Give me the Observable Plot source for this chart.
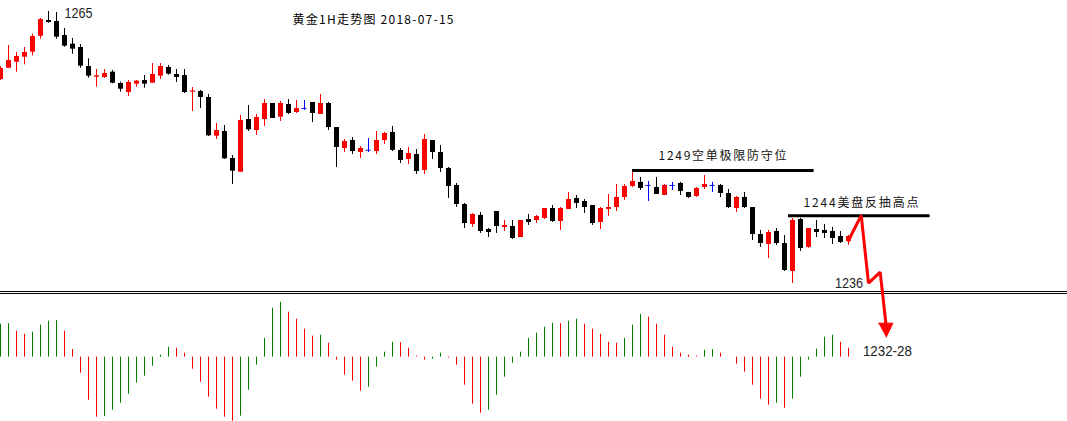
<!DOCTYPE html>
<html><head><meta charset="utf-8">
<script src="https://cdn.jsdelivr.net/npm/d3@7"></script>
<script src="https://cdn.jsdelivr.net/npm/@observablehq/plot@0.6"></script>
<style>
html,body{margin:0;padding:0;background:#fff;}
#chart{position:relative;width:1067px;height:421px;overflow:hidden;background:#fff;}
#top{position:relative;z-index:2;height:291px;}
#sep{height:1px;border-top:1px solid #000;border-bottom:1px solid #000;}
#bottom{position:relative;z-index:1;height:127px;}
svg{display:block;}
</style></head><body>
<div id="chart"><div id="top"></div><div id="sep"></div><div id="bottom"></div></div>
<script>
// ---- data (gold 1H candles) ----
const openP = [
1257.75,1258.95,1259.59,1260.12,1260.66,1262.36,1264.04,1263.93,1262.44,1261.51,
1261.16,1259.13,1257.99,1257.96,1258.53,1257.32,1256.36,1257.25,1257.64,1257.35,
1258.10,1259.03,1258.28,1258.17,1256.39,1256.47,1255.83,1251.70,1252.20,1249.32,
1247.86,1253.48,1252.31,1253.48,1255.19,1253.73,1255.08,1254.23,1254.66,1255.30,
1254.02,1255.19,1252.63,1250.39,1251.24,1249.96,1250.21,1250.07,1251.24,1252.10,
1250.18,1249.22,1249.75,1248.05,1251.24,1249.96,1248.26,1246.45,1244.42,1242.29,
1243.25,1241.75,1243.67,1241.97,1242.07,1240.90,1242.82,1242.71,1242.93,1243.99,
1242.61,1243.89,1245.06,1244.74,1244.31,1242.50,1243.89,1244.10,1245.17,1246.34,
1246.77,1246.45,1246.23,1245.38,1246.45,1246.66,1245.70,1245.27,1246.23,1246.45,
1246.45,1245.59,1243.99,1245.17,1244.10,1241.22,1240.16,1241.54,1240.26,1237.28,
1242.82,1239.84,1241.75,1241.65,1241.54,1241.01,1240.48];
const highP = [
1259.13,1261.37,1260.63,1261.16,1262.58,1264.25,1265.00,1264.89,1263.18,1262.12,
1261.48,1259.95,1258.81,1258.81,1258.71,1257.46,1257.64,1257.64,1258.17,1259.45,
1259.45,1259.24,1258.81,1258.81,1256.89,1256.57,1256.15,1253.06,1252.84,1249.64,
1253.91,1254.97,1254.02,1255.61,1255.19,1255.40,1255.61,1255.51,1255.51,1255.30,
1256.15,1255.30,1252.63,1251.35,1251.56,1250.60,1251.46,1252.20,1252.10,1252.74,
1250.39,1250.50,1250.28,1251.88,1251.24,1250.71,1248.36,1246.66,1244.53,1243.46,
1243.57,1241.86,1243.67,1242.71,1242.71,1242.71,1243.35,1243.25,1243.99,1244.31,
1244.10,1245.70,1245.38,1244.95,1244.31,1244.10,1245.49,1246.55,1246.55,1248.05,
1247.30,1246.87,1247.30,1246.55,1246.77,1246.77,1245.70,1246.23,1247.51,1246.77,
1246.55,1246.02,1245.27,1245.70,1244.10,1241.65,1241.65,1241.86,1241.11,1242.93,
1242.93,1241.86,1242.71,1242.29,1241.97,1241.54,1241.11];
const lowP = [
1257.64,1258.92,1258.53,1259.31,1260.27,1262.04,1263.75,1262.04,1261.19,1260.44,
1258.95,1257.89,1256.93,1257.85,1257.29,1256.39,1255.93,1256.93,1256.82,1257.35,
1257.75,1258.21,1257.43,1256.25,1254.34,1254.66,1251.67,1251.35,1249.22,1246.55,
1247.86,1252.20,1251.78,1252.74,1253.59,1253.27,1254.02,1254.12,1254.44,1253.16,
1254.02,1252.31,1248.36,1249.96,1249.75,1249.32,1249.96,1249.75,1250.82,1250.07,
1248.79,1248.68,1247.62,1247.62,1249.22,1247.83,1245.06,1244.10,1241.86,1241.97,
1241.33,1240.90,1241.33,1241.54,1240.69,1240.90,1242.18,1242.39,1242.82,1242.50,
1241.65,1243.89,1243.99,1243.46,1242.18,1241.75,1243.14,1243.67,1244.85,1246.23,
1245.91,1244.74,1245.49,1245.38,1245.91,1245.38,1245.06,1245.17,1246.02,1245.70,
1245.17,1243.99,1243.57,1243.99,1240.58,1239.84,1238.66,1240.05,1237.28,1236.00,
1239.41,1239.73,1240.90,1240.79,1240.16,1240.26,1240.05];
const closeP = [
1258.92,1259.77,1260.20,1260.63,1262.33,1264.14,1263.82,1262.26,1261.30,1260.98,
1259.17,1258.10,1258.14,1258.39,1257.35,1256.71,1257.43,1257.57,1257.25,1258.28,
1259.13,1258.31,1257.96,1256.36,1256.52,1255.83,1251.74,1252.31,1249.29,1247.97,
1253.38,1252.38,1253.70,1255.19,1253.59,1255.19,1254.12,1254.66,1254.66,1254.12,
1255.19,1252.63,1250.50,1251.14,1250.07,1250.39,1250.21,1251.24,1251.99,1250.18,
1249.11,1249.86,1247.94,1251.35,1249.96,1248.26,1246.34,1244.42,1242.39,1243.35,
1241.54,1241.43,1242.07,1242.18,1240.79,1242.71,1242.50,1243.14,1243.99,1242.61,
1243.99,1244.95,1244.53,1244.10,1242.39,1243.99,1244.10,1245.17,1246.34,1246.87,
1246.13,1246.45,1245.49,1246.45,1246.45,1245.81,1245.17,1246.13,1246.55,1246.45,
1245.59,1244.10,1245.17,1244.10,1241.22,1240.26,1241.43,1240.26,1237.38,1242.71,
1239.73,1241.86,1241.43,1241.33,1240.79,1240.37,1241.01];
// MACD-style histogram
const histV = [
33,33.5,26,23,25,32,36,36.5,26,7.7,
-16,-43,-60,-59.5,-53,-46,-37,-26,-19,-9,
2,10,9,4,-12,-25,-40,-52,-60,-64,
-59,-33,-8,19,49,55,45,38,28,21,
22,14,-3,-18,-24,-34,-30,-10,5,15,
14.5,9,1,-3,-2,4,-1,-8,-28,-47,
-56,-53,-38,-20,-6,5,19,24,30,34,
33.5,36,38,33,28,23,15,14,19,32,
43,40,33,22,10,4,2,1,7,7.5,
4,0,-7,-15,-28,-42,-48,-46,-51,-42,
-20,-3,8,20,22,15,9];
// annotation levels
const levelPrice = [1248.05, 1243.21];
const levelFrom = [79, 98.5];
const levelTo = [101.7, 116.2];
const levelText = ["1249空单极限防守位", "1244美盘反抽高点"];
// forecast path (index, price)
const pathI = [106, 107.59, 108.5, 109.96, 110.7];
const pathP = [1240.58, 1243.25, 1236.03, 1237.20, 1231.52];
const headI = [109.75, 111.55, 110.71];
const headP = [1231.76, 1231.76, 1230.27];
const titleText = "黄金1H走势图 2018-07-15";
const targetText = "1232-28";

// ---- build tables ----
const candles = openP.map((o, i) => ({i, open: o, high: highP[i], low: lowP[i], close: closeP[i]}));
const col = d => d.close > d.open ? "#ff0000" : d.close < d.open ? "#000000" : "#0000ff";
const bodies = candles.filter(d => d.open !== d.close);
const dojis = candles.filter(d => d.open === d.close);
const hist = histV.map((v, i) => ({i, v, c: (i === 0 || v >= histV[i - 1]) ? "#008000" : "#ff0000"}));
const levels = levelPrice.map((p, k) => ({price: p, from: levelFrom[k], to: levelTo[k], text: levelText[k]}));
const path = pathI.map((x, k) => ({i: x, p: pathP[k]}));
const head = headI.map((x, k) => ({i: x, p: headP[k]}));

const W = 1067;
const xDom = [0, W / 8];
const cnFont = "'Noto Sans CJK SC', 'Liberation Sans', sans-serif";
const numFont = "'Liberation Sans Narrow', 'Liberation Sans', sans-serif";

const topPlot = Plot.plot({
  width: W, height: 291, margin: 0,
  x: {domain: xDom, axis: null},
  y: {domain: [1235.14, 1266.17], axis: null},
  style: {background: "transparent", overflow: "visible"},
  marks: [
    Plot.ruleX(candles, {x: "i", y1: "low", y2: "high", stroke: col, strokeWidth: 1}),
    Plot.ruleX(bodies, {x: "i", y1: "open", y2: "close", stroke: col, strokeWidth: 5}),
    Plot.ruleY(dojis, {y: "close", x1: d => d.i - 0.3125, x2: d => d.i + 0.3125, stroke: "#0000ff", strokeWidth: 1}),
    Plot.ruleY(levels, {y: "price", x1: "from", x2: "to", stroke: "#000", strokeWidth: 3}),
    Plot.text([levels[0]], {x: "from", y: "price", text: "text", dx: 26, dy: -14, textAnchor: "start", lineAnchor: "middle", fontFamily: cnFont, fontSize: 12, fill: "#111"}),
    Plot.text([levels[1]], {x: "from", y: "price", text: "text", dx: 15, dy: -12.6, textAnchor: "start", lineAnchor: "middle", fontFamily: cnFont, fontSize: 12, fill: "#111"}),
    Plot.text([candles[6]], {x: "i", y: "high", text: d => String(Math.round(d.high)), dx: 16, dy: 2, textAnchor: "start", lineAnchor: "middle", fontFamily: numFont, fontSize: 15, fill: "#222"}),
    Plot.text([candles[99]], {x: "i", y: "low", text: d => String(Math.round(d.low)), dx: 42.5, dy: -0.5, textAnchor: "start", lineAnchor: "middle", fontFamily: numFont, fontSize: 15, fill: "#222"}),
    Plot.line(path, {x: "i", y: "p", stroke: "#ff0000", strokeWidth: 3, strokeLinejoin: "miter"}),
    Plot.line(head, {x: "i", y: "p", stroke: "#ff0000", fill: "#ff0000", strokeWidth: 1}),
    Plot.text([head[2]], {x: "i", y: "p", text: () => targetText, dx: -23.3, dy: 14, textAnchor: "start", lineAnchor: "middle", fontFamily: numFont, fontSize: 15, fill: "#222"}),
    Plot.text([titleText], {frameAnchor: "top-left", dx: 292, dy: 20, textAnchor: "start", lineAnchor: "middle", fontFamily: cnFont, fontSize: 12, fill: "#000"})
  ]
});
topPlot.style.overflow = "visible";
topPlot.style.background = "transparent";
document.getElementById("top").appendChild(topPlot);
// fit text widths to the reference
const widths = new Map([
  [levelText[0], [128, "spacing"]],
  [levelText[1], [115, "spacing"]],
  [titleText, [161, "spacing"]],
  ["1265", [28, "spacingAndGlyphs"]],
  ["1236", [28, "spacingAndGlyphs"]],
  [targetText, [49, "spacingAndGlyphs"]]
]);
topPlot.querySelectorAll("text").forEach(t => {
  const w = widths.get(t.textContent.trim());
  if (w) { t.setAttribute("textLength", w[0]); t.setAttribute("lengthAdjust", w[1]); }
});

const botPlot = Plot.plot({
  width: W, height: 127, margin: 0,
  x: {domain: xDom, axis: null},
  y: {domain: [-64.3, 62.7], axis: null},
  style: {background: "transparent"},
  marks: [
    Plot.ruleX(hist, {x: "i", y1: 0, y2: "v", stroke: "c", strokeWidth: 1})
  ]
});
document.getElementById("bottom").appendChild(botPlot);
</script>
</body></html>
